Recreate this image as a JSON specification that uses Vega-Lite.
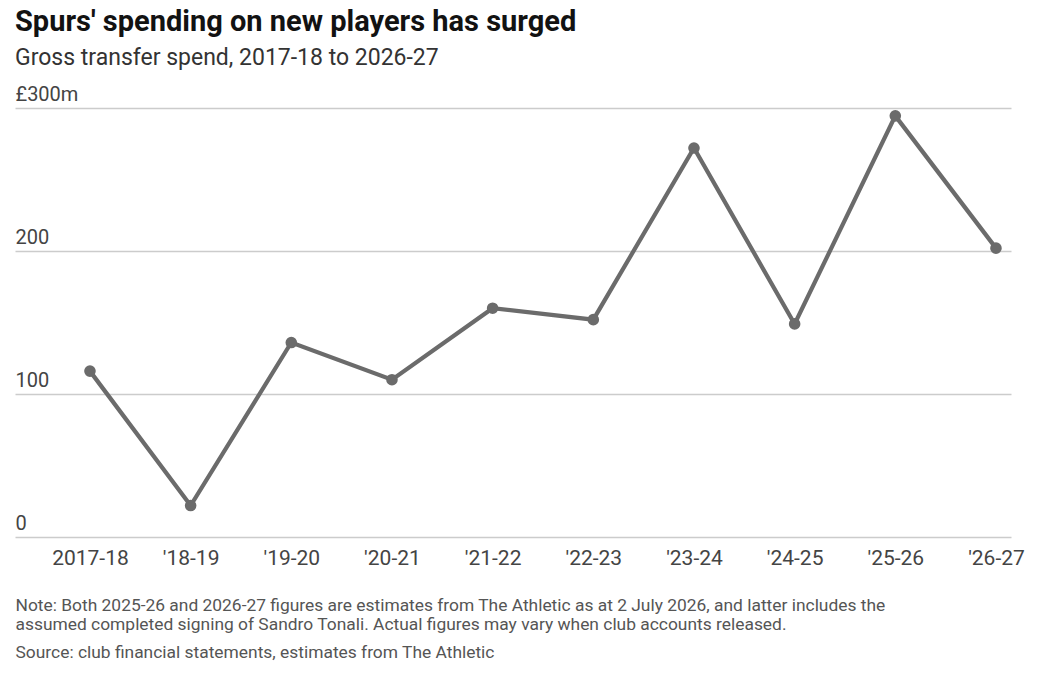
{
  "$schema": "https://vega.github.io/schema/vega-lite/v6.json",
  "width": 996,
  "height": 429,
  "autosize": {"type": "none"},
  "padding": {"left": 15, "top": 108, "right": 40, "bottom": 141},
  "background": "white",
  "title": {
    "text": "Spurs' spending on new players has surged",
    "subtitle": "Gross transfer spend, 2017-18 to 2026-27",
    "anchor": "start",
    "font": "Roboto",
    "fontSize": 29,
    "fontWeight": "bold",
    "color": "#121212",
    "subtitleFont": "Roboto",
    "subtitleFontSize": 23,
    "subtitleColor": "#333333",
    "subtitlePadding": 10,
    "offset": 14
  },
  "data": {
    "values": [
      {"season": "2017-18", "spend": 116},
      {"season": "'18-19", "spend": 22},
      {"season": "'19-20", "spend": 136},
      {"season": "'20-21", "spend": 110},
      {"season": "'21-22", "spend": 160},
      {"season": "'22-23", "spend": 152},
      {"season": "'23-24", "spend": 272},
      {"season": "'24-25", "spend": 149},
      {"season": "'25-26", "spend": 294.5},
      {"season": "'26-27", "spend": 202}
    ]
  },
  "mark": {
    "type": "line",
    "color": "#6b6b6b",
    "strokeWidth": 4.2,
    "point": {"filled": true, "size": 135, "color": "#6b6b6b", "opacity": 1}
  },
  "encoding": {
    "x": {
      "field": "season",
      "type": "nominal",
      "sort": null,
      "scale": {"type": "point", "padding": 0.447, "align": 0.833},
      "axis": {
        "title": [
          "Note: Both 2025-26 and 2026-27 figures are estimates from The Athletic as at 2 July 2026, and latter includes the",
          "assumed completed signing of Sandro Tonali. Actual figures may vary when club accounts released."
        ],
        "titleX": 0,
        "titleY": 73,
        "titleAlign": "left",
        "titleAnchor": "start",
        "titleBaseline": "alphabetic",
        "titleFont": "Roboto",
        "titleFontSize": 17.4,
        "titleFontWeight": "normal",
        "titleColor": "#555555",
        "titleLineHeight": 19,
        "labelAngle": 0,
        "labelFont": "Roboto",
        "labelFontSize": 21,
        "labelColor": "#444444",
        "labelPadding": 10,
        "domain": false,
        "ticks": false,
        "grid": false
      }
    },
    "y": {
      "field": "spend",
      "type": "quantitative",
      "scale": {"domain": [0, 300], "nice": false},
      "axis": {
        "title": "Source: club financial statements, estimates from The Athletic",
        "titleAngle": 0,
        "titleX": 0,
        "titleY": 549,
        "titleAlign": "left",
        "titleAnchor": "start",
        "titleBaseline": "alphabetic",
        "titleFont": "Roboto",
        "titleFontSize": 17.4,
        "titleFontWeight": "normal",
        "titleColor": "#555555",
        "values": [0, 100, 200, 300],
        "labelExpr": "datum.value == 300 ? '£300m' : datum.label",
        "labelFont": "Roboto",
        "labelFontSize": 20,
        "labelColor": "#444444",
        "labelAlign": "left",
        "labelBaseline": "alphabetic",
        "labelPadding": 0,
        "labelOffset": -8,
        "tickSize": 0,
        "ticks": false,
        "domain": false,
        "gridColor": "#cccccc",
        "gridWidth": 1.5
      }
    }
  },
  "config": {"view": {"stroke": null}}
}
